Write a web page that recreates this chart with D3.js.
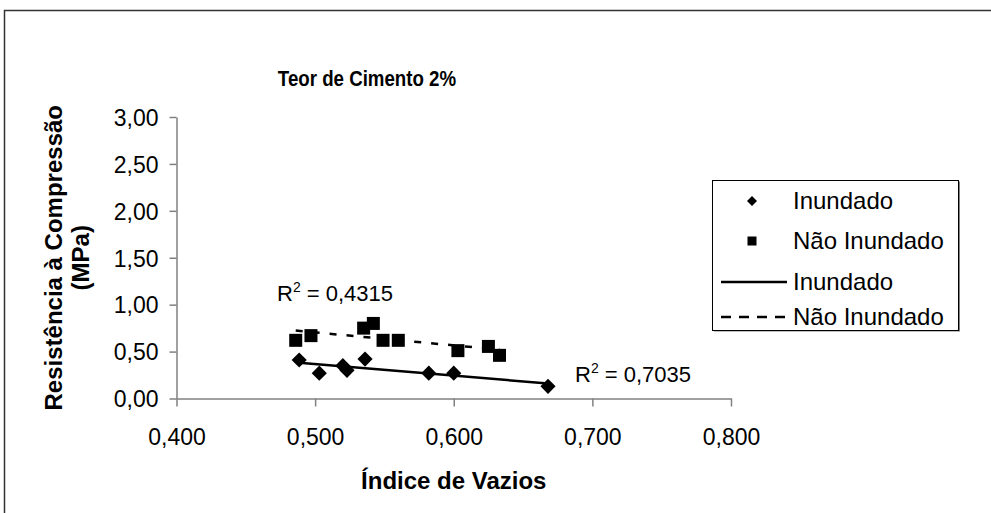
<!DOCTYPE html>
<html>
<head>
<meta charset="utf-8">
<script src="https://cdn.jsdelivr.net/npm/d3@7"></script>
<style>
  body { margin: 0; background: #fff; }
  svg { display: block; font-family: "Liberation Sans", Arial, sans-serif; }
</style>
</head>
<body>
<svg id="chart" width="991" height="513"></svg>
<script>
// data
const inundadoX = [0.4885, 0.503, 0.520, 0.523, 0.536, 0.582, 0.600, 0.668];
const inundadoY = [0.41, 0.27, 0.35, 0.30, 0.42, 0.27, 0.27, 0.13];
const naoInundadoX = [0.486, 0.497, 0.535, 0.542, 0.549, 0.560, 0.603, 0.625, 0.633];
const naoInundadoY = [0.62, 0.67, 0.75, 0.80, 0.62, 0.62, 0.51, 0.555, 0.46];
const xTicks = [0.4, 0.5, 0.6, 0.7, 0.8];
const yTicks = [0, 0.5, 1, 1.5, 2, 2.5, 3];
const r2Labels = ["0,4315", "0,7035"];
const legendNames = ["Inundado", "Não Inundado", "Inundado", "Não Inundado"];

const svg = d3.select("#chart");

// outer chart frame (runs off the right / bottom edge)
svg.append("rect")
    .attr("x", 4.5).attr("y", 10.5)
    .attr("width", 1000).attr("height", 600)
    .attr("fill", "none").attr("stroke", "#333").attr("stroke-width", 1.5);

const x = d3.scaleLinear().domain([0.4, 0.8]).range([176.5, 731]);
const y = d3.scaleLinear().domain([0, 3]).range([398.5, 117]);

const fmt = d3.formatLocale({decimal: ",", thousands: ".", grouping: [3], currency: ["", ""]});

// axes
const xAxis = svg.append("g")
    .attr("transform", `translate(0,${y(0)})`)
    .call(d3.axisBottom(x).tickValues(xTicks).tickSize(8).tickSizeOuter(0).tickFormat(fmt.format(".3f")));
const yAxis = svg.append("g")
    .attr("transform", `translate(${x(0.4)},0)`)
    .call(d3.axisLeft(y).tickValues(yTicks).tickSize(7).tickSizeOuter(0).tickFormat(fmt.format(".2f")));

[xAxis, yAxis].forEach(g => {
  g.select(".domain").attr("stroke", "#808080").attr("stroke-width", 1.5);
  g.selectAll(".tick line").attr("stroke", "#808080").attr("stroke-width", 1.5);
  g.selectAll(".tick text").attr("fill", "#000").attr("font-size", 23)
      .attr("font-family", "Liberation Sans, Arial, sans-serif");
});
xAxis.selectAll(".tick text").attr("y", 0).attr("dy", 46);
yAxis.selectAll(".tick text").attr("x", -18).attr("dy", "0.36em");

// linear trend lines (least squares on the points)
function fit(xs, ys) {
  const mx = d3.mean(xs), my = d3.mean(ys);
  let sxy = 0, sxx = 0;
  xs.forEach((v, i) => { sxy += (v - mx) * (ys[i] - my); sxx += (v - mx) * (v - mx); });
  const b = sxy / sxx, a = my - b * mx;
  const x0 = d3.min(xs), x1 = d3.max(xs);
  return [[x0, a + b * x0], [x1, a + b * x1]];
}
const line = d3.line().x(d => x(d[0])).y(d => y(d[1]));

svg.append("path").attr("d", line(fit(inundadoX, inundadoY)))
    .attr("stroke", "#000").attr("stroke-width", 2.5).attr("fill", "none");
svg.append("path").attr("d", line(fit(naoInundadoX, naoInundadoY)))
    .attr("stroke", "#000").attr("stroke-width", 2.5).attr("stroke-dasharray", "7,10").attr("fill", "none");

// markers
const diamond = d3.symbol().type(d3.symbolSquare).size(115);
svg.append("g").selectAll("path")
    .data(inundadoX.map((v, i) => [v, inundadoY[i]]))
    .join("path")
    .attr("d", diamond)
    .attr("transform", d => `translate(${x(d[0])},${y(d[1])}) rotate(45)`)
    .attr("fill", "#000");

svg.append("g").selectAll("rect")
    .data(naoInundadoX.map((v, i) => [v, naoInundadoY[i]]))
    .join("rect")
    .attr("x", d => x(d[0]) - 6.5).attr("y", d => y(d[1]) - 6.5)
    .attr("width", 13).attr("height", 13)
    .attr("fill", "#000");

// R² labels
function r2(tx, ty, val) {
  const t = svg.append("text").attr("x", tx).attr("y", ty).attr("font-size", 22).attr("fill", "#000");
  t.append("tspan").text("R");
  t.append("tspan").text("2").attr("font-size", 14).attr("dy", -9);
  t.append("tspan").text(" = " + val).attr("dy", 9);
}
r2(277, 301, r2Labels[0]);
r2(575, 382, r2Labels[1]);

// title (a bit condensed in the original)
svg.append("text").attr("transform", "translate(367,86) scale(0.85,1)").attr("text-anchor", "middle")
    .attr("font-size", 22).attr("font-weight", "bold").text("Teor de Cimento 2%");

// axis titles
svg.append("text").attr("x", (x(0.4) + x(0.8)) / 2).attr("y", 489).attr("text-anchor", "middle")
    .attr("font-size", 24).attr("font-weight", "bold").text("Índice de Vazios");

const yt = svg.append("text").attr("transform", `translate(62,${(y(0) + y(3)) / 2}) rotate(-90)`)
    .attr("text-anchor", "middle").attr("font-size", 24).attr("font-weight", "bold");
yt.append("tspan").attr("x", 0).attr("y", 0).text("Resistência à Compressão");
yt.append("tspan").attr("x", 0).attr("y", 27).text("(MPa)");

// legend
const lg = svg.append("g");
lg.append("rect").attr("x", 714).attr("y", 181.5).attr("width", 246).attr("height", 150)
    .attr("fill", "#808080");
lg.append("rect").attr("x", 712.5).attr("y", 180.5).attr("width", 246).attr("height", 150)
    .attr("fill", "#fff").attr("stroke", "#000").attr("stroke-width", 1);
const rowY = [201, 241, 282, 317];
legendNames.forEach((n, i) => {
  lg.append("text").attr("x", 793).attr("y", rowY[i]).attr("dy", "0.35em")
      .attr("font-size", 24).text(n);
});
lg.append("path").attr("d", d3.symbol().type(d3.symbolSquare).size(50))
    .attr("transform", `translate(752,${rowY[0]}) rotate(45)`).attr("fill", "#000");
lg.append("rect").attr("x", 747.5).attr("y", rowY[1] - 4.5).attr("width", 9).attr("height", 9).attr("fill", "#000");
lg.append("line").attr("x1", 721).attr("x2", 787).attr("y1", rowY[2]).attr("y2", rowY[2])
    .attr("stroke", "#000").attr("stroke-width", 2.5);
lg.append("line").attr("x1", 721).attr("x2", 787).attr("y1", rowY[3]).attr("y2", rowY[3])
    .attr("stroke", "#000").attr("stroke-width", 2.5).attr("stroke-dasharray", "10,8");
</script>
</body>
</html>
